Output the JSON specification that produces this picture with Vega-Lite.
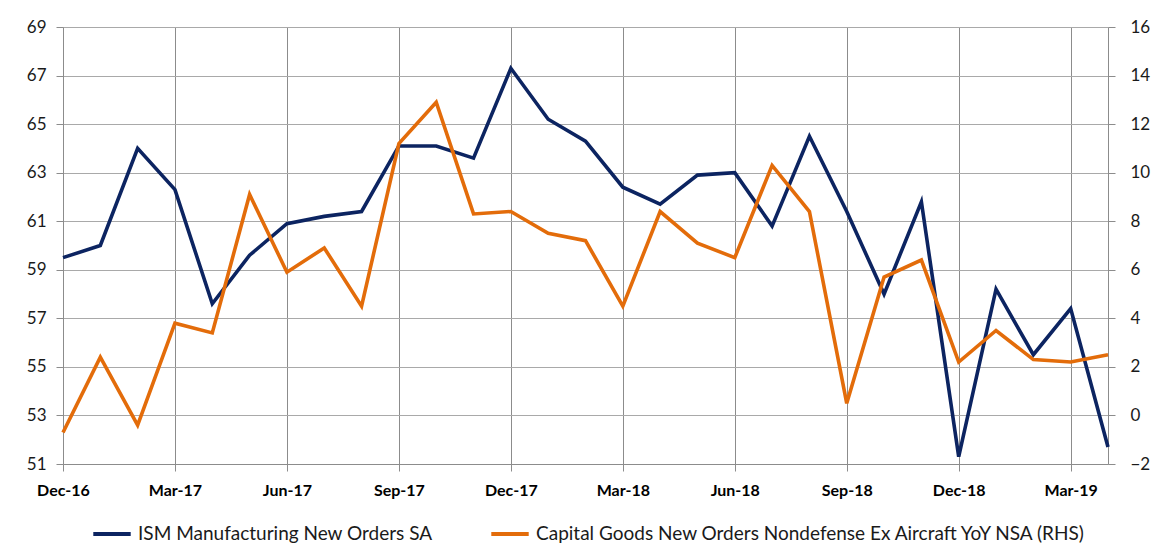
{
  "$schema": "https://vega.github.io/schema/vega-lite/v6.json",
  "width": 1045,
  "height": 437,
  "autosize": {"type": "none"},
  "padding": {"left": 63, "top": 27, "right": 58, "bottom": 88},
  "background": "white",
  "config": {
    "font": "Lato",
    "view": {"stroke": null},
    "axis": {
      "labelFont": "Lato",
      "labelColor": "#1a1a1a",
      "domainColor": "#8c8c8c",
      "tickColor": "#8c8c8c",
      "gridColor": "#a9a9a9",
      "gridOpacity": 1,
      "tickSize": 7,
      "title": null
    }
  },
  "data": {
    "values": [
      {"month": "Dec-16", "ism": 59.5, "cg": -0.7},
      {"month": "Jan-17", "ism": 60.0, "cg": 2.4},
      {"month": "Feb-17", "ism": 64.0, "cg": -0.4},
      {"month": "Mar-17", "ism": 62.3, "cg": 3.8},
      {"month": "Apr-17", "ism": 57.6, "cg": 3.4},
      {"month": "May-17", "ism": 59.6, "cg": 9.1},
      {"month": "Jun-17", "ism": 60.9, "cg": 5.9},
      {"month": "Jul-17", "ism": 61.2, "cg": 6.9},
      {"month": "Aug-17", "ism": 61.4, "cg": 4.5},
      {"month": "Sep-17", "ism": 64.1, "cg": 11.2},
      {"month": "Oct-17", "ism": 64.1, "cg": 12.9},
      {"month": "Nov-17", "ism": 63.6, "cg": 8.3},
      {"month": "Dec-17", "ism": 67.3, "cg": 8.4},
      {"month": "Jan-18", "ism": 65.2, "cg": 7.5},
      {"month": "Feb-18", "ism": 64.3, "cg": 7.2},
      {"month": "Mar-18", "ism": 62.4, "cg": 4.5},
      {"month": "Apr-18", "ism": 61.7, "cg": 8.4},
      {"month": "May-18", "ism": 62.9, "cg": 7.1},
      {"month": "Jun-18", "ism": 63.0, "cg": 6.5},
      {"month": "Jul-18", "ism": 60.8, "cg": 10.3},
      {"month": "Aug-18", "ism": 64.5, "cg": 8.4},
      {"month": "Sep-18", "ism": 61.4, "cg": 0.5},
      {"month": "Oct-18", "ism": 58.0, "cg": 5.7},
      {"month": "Nov-18", "ism": 61.8, "cg": 6.4},
      {"month": "Dec-18", "ism": 51.3, "cg": 2.2},
      {"month": "Jan-19", "ism": 58.2, "cg": 3.5},
      {"month": "Feb-19", "ism": 55.5, "cg": 2.3},
      {"month": "Mar-19", "ism": 57.4, "cg": 2.2},
      {"month": "Apr-19", "ism": 51.7, "cg": 2.5}
    ]
  },
  "encoding": {
    "x": {
      "field": "month",
      "type": "ordinal",
      "sort": null,
      "scale": {"type": "point", "padding": 0},
      "axis": {
        "values": ["Dec-16", "Mar-17", "Jun-17", "Sep-17", "Dec-17", "Mar-18", "Jun-18", "Sep-18", "Dec-18", "Mar-19"],
        "labelAngle": 0,
        "labelFontWeight": "bold",
        "labelFontSize": 16,
        "labelPadding": 11,
        "grid": true,
        "gridColor": "#8c8c8c",
        "domainColor": "#8c8c8c",
        "labelColor": "#000000"
      }
    }
  },
  "layer": [
    {
      "mark": {"type": "line", "strokeWidth": 3.6, "strokeJoin": "miter"},
      "encoding": {
        "y": {
          "field": "ism",
          "type": "quantitative",
          "scale": {"domain": [51, 69], "nice": false, "zero": false},
          "axis": {
            "orient": "left",
            "values": [51, 53, 55, 57, 59, 61, 63, 65, 67, 69],
            "grid": true,
            "labelFontSize": 17,
            "labelPadding": 10
          }
        },
        "color": {
          "datum": "ISM Manufacturing New Orders SA",
          "type": "nominal",
          "scale": {
            "domain": ["ISM Manufacturing New Orders SA", "Capital Goods New Orders Nondefense Ex Aircraft YoY NSA (RHS)"],
            "range": ["#0c2461", "#e36c0a"]
          },
          "legend": {
            "orient": "none",
            "legendX": 28,
            "legendY": 486,
            "direction": "horizontal",
            "title": null,
            "symbolType": "stroke",
            "symbolSize": 1400,
            "symbolStrokeWidth": 4,
            "labelFontSize": 19,
            "labelFont": "Lato",
            "labelColor": "#1a1a1a",
            "labelLimit": 1000,
            "labelOffset": 5,
            "columnPadding": 50
          }
        }
      }
    },
    {
      "mark": {"type": "line", "strokeWidth": 3.6, "strokeJoin": "miter"},
      "encoding": {
        "y": {
          "field": "cg",
          "type": "quantitative",
          "scale": {"domain": [-2, 16], "nice": false, "zero": false},
          "axis": {
            "orient": "right",
            "values": [-2, 0, 2, 4, 6, 8, 10, 12, 14, 16],
            "grid": false,
            "labelFontSize": 17,
            "labelPadding": 15
          }
        },
        "color": {"datum": "Capital Goods New Orders Nondefense Ex Aircraft YoY NSA (RHS)", "type": "nominal"}
      }
    }
  ],
  "resolve": {"scale": {"y": "independent"}}
}
